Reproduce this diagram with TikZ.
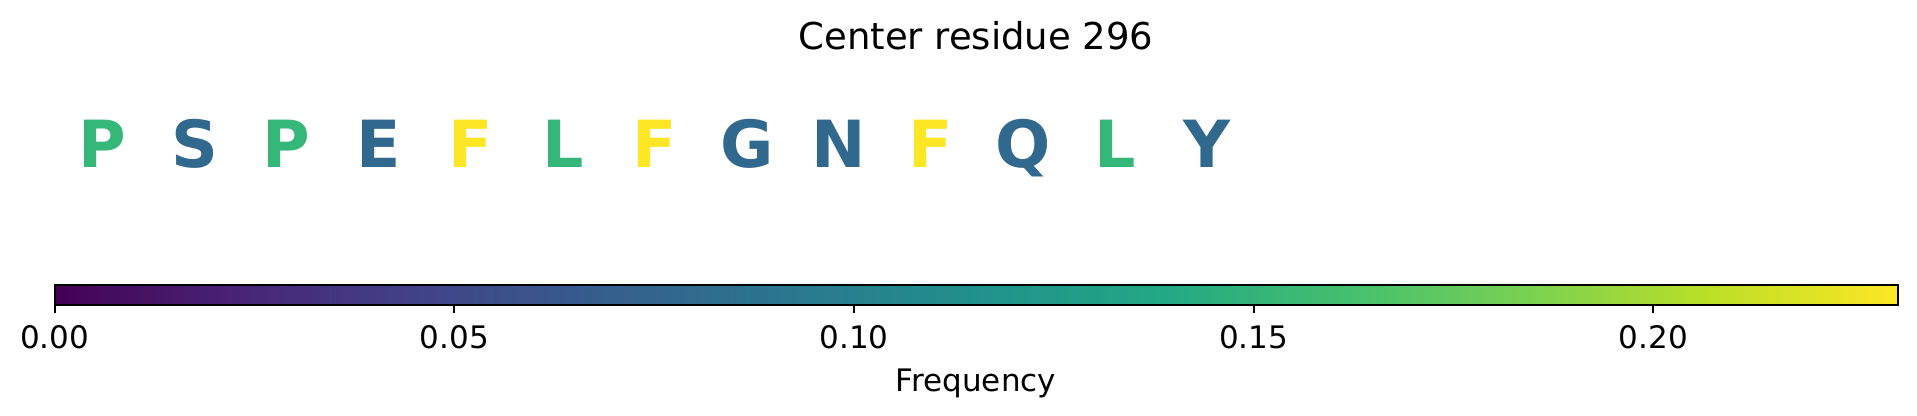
\documentclass[tikz,border=0pt]{standalone}
\usepackage{fontspec}
\setmainfont{DejaVu Sans}

\definecolor{vir0}{HTML}{440154}
\definecolor{vir1}{HTML}{482475}
\definecolor{vir2}{HTML}{414487}
\definecolor{vir3}{HTML}{355F8D}
\definecolor{vir4}{HTML}{2A788E}
\definecolor{vir5}{HTML}{21918C}
\definecolor{vir6}{HTML}{22A884}
\definecolor{vir7}{HTML}{44BF70}
\definecolor{vir8}{HTML}{7AD151}
\definecolor{vir9}{HTML}{BDDF26}
\definecolor{vir10}{HTML}{FDE725}

\pgfdeclarehorizontalshading{viridis}{100bp}{color(0bp)=(vir0); color(25bp)=(vir0);
  color(30bp)=(vir1); color(35bp)=(vir2); color(40bp)=(vir3); color(45bp)=(vir4);
  color(50bp)=(vir5); color(55bp)=(vir6); color(60bp)=(vir7); color(65bp)=(vir8);
  color(70bp)=(vir9); color(75bp)=(vir10); color(100bp)=(vir10)}

\tikzset{
  every node/.style={inner sep=0pt,anchor=base},
  res/.style={font=\bfseries\fontsize{32.5}{32.5}\selectfont},
  grn/.style={text={rgb,255:red,53;green,183;blue,121}},
  blu/.style={text={rgb,255:red,49;green,104;blue,142}},
  yel/.style={text={rgb,255:red,253;green,231;blue,37}},
  ticklabel/.style={font=\fontsize{15.5}{15.5}\selectfont}
}

\begin{document}
\begin{tikzpicture}[x=0.5pt,y=0.5pt]
      \useasboundingbox (0,0) rectangle (1917,416);

      \node [font=\fontsize{18.5}{18.5}\selectfont] (title) at (976,366.7) {Center residue 296};

      \node [res,grn] (P1) at (102.7,248.7) {P};
      \node [res,blu] (S1) at (194.7,248.7) {S};
      \node [res,grn] (P2) at (286.8,248.7) {P};
      \node [res,blu] (E1) at (378.8,248.7) {E};
      \node [res,yel] (F1) at (470.8,248.7) {F};
      \node [res,grn] (L1) at (562.9,248.7) {L};
      \node [res,yel] (F2) at (654.9,248.7) {F};
      \node [res,blu] (G1) at (746.9,248.7) {G};
      \node [res,blu] (N1) at (838.9,248.7) {N};
      \node [res,yel] (F3) at (931.0,248.7) {F};
      \node [res,blu] (Q1) at (1023.0,248.7) {Q};
      \node [res,grn] (L2) at (1115.0,248.7) {L};
      \node [res,blu] (Y1) at (1207.0,248.7) {Y};

      \coordinate (bl) at (54.7,111.3);
      \coordinate (tr) at (1898.3,131.3);
      \shade [shading=viridis] (bl) rectangle (tr);
      \draw [line width=1pt] (bl) rectangle (tr);

      \foreach \x/\t in {54.7/0.00,454.35/0.05,854.0/0.10,1253.65/0.15,1653.3/0.20}
        {\draw [line width=1pt] (\x,111.3) -- (\x,102.7);
         \node [ticklabel] (lab\t) at (\x,67.3) {\t};}

      \node [ticklabel] (freq) at (976,24.3) {Frequency};
    \end{tikzpicture}
\end{document}
